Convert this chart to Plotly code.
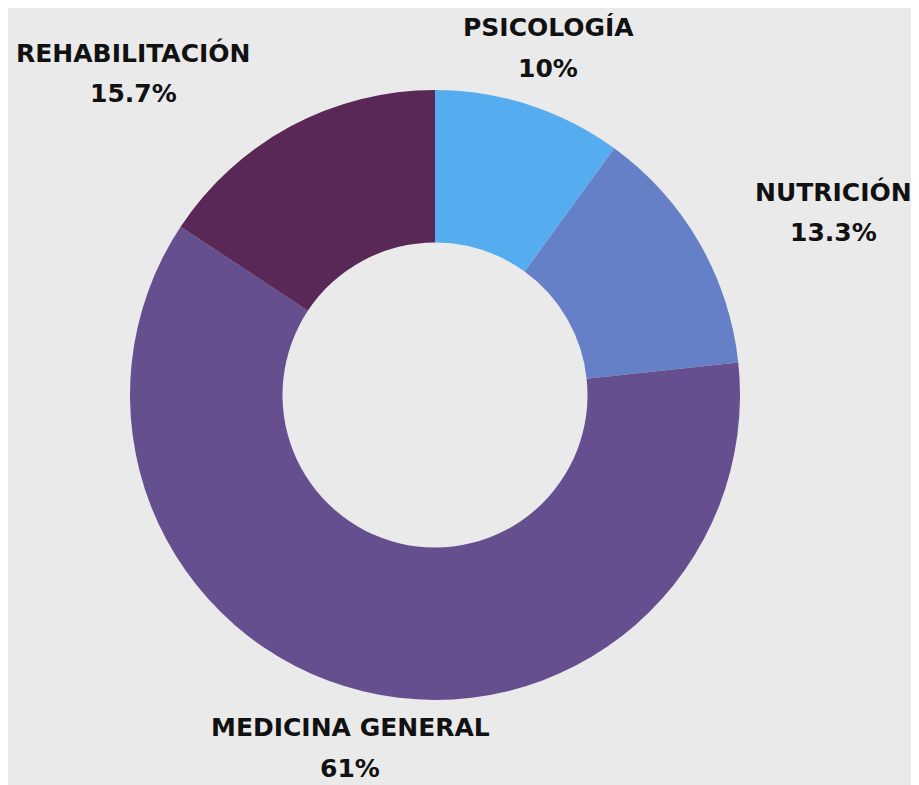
import plotly.graph_objects as go

areas = ['PSICOLOGÍA', 'NUTRICIÓN', 'MEDICINA GENERAL', 'REHABILITACIÓN']
percent = [10, 13.3, 61, 15.7]
colors = ['#55ADEF', '#6580C7', '#654F8F', '#592856']

W, H = 919, 785
off = 8  # page body margin shifts the figure, pull contents back

# where each label block sits (pixel centre of the name line)
label_pos = [(548, 28), (833, 192), (350, 727), (133, 53)]
line_gap = 41

fig = go.Figure()

fig.add_trace(go.Pie(
    labels=areas,
    values=percent,
    hole=0.5,
    sort=False,
    direction='clockwise',
    rotation=0,
    marker=dict(colors=colors, line=dict(width=0)),
    textinfo='none',
    hoverinfo='label+percent',
    showlegend=False,
    domain=dict(x=[(130 - off) / W, (740 - off) / W],
                y=[1 - (700 - off) / H, 1 - (90 - off) / H])
))

lbl_font = dict(family='DejaVu Sans', size=25, color='#111111')

annotations = []
for name, val, (px, py) in zip(areas, percent, label_pos):
    annotations.append(dict(
        x=(px - off) / W, y=1 - (py - off) / H, xref='paper', yref='paper',
        text='<b>' + name + '</b>', showarrow=False,
        xanchor='center', yanchor='middle', font=lbl_font
    ))
    annotations.append(dict(
        x=(px - off) / W, y=1 - (py + line_gap - off) / H, xref='paper', yref='paper',
        text='<b>' + format(val, 'g') + '%</b>', showarrow=False,
        xanchor='center', yanchor='middle', font=lbl_font
    ))

fig.update_layout(
    width=W,
    height=H,
    margin=dict(l=0, r=0, t=0, b=0),
    paper_bgcolor='#EAEAEA',
    plot_bgcolor='#EAEAEA',
    annotations=annotations
)

fig.write_html("out.html")
